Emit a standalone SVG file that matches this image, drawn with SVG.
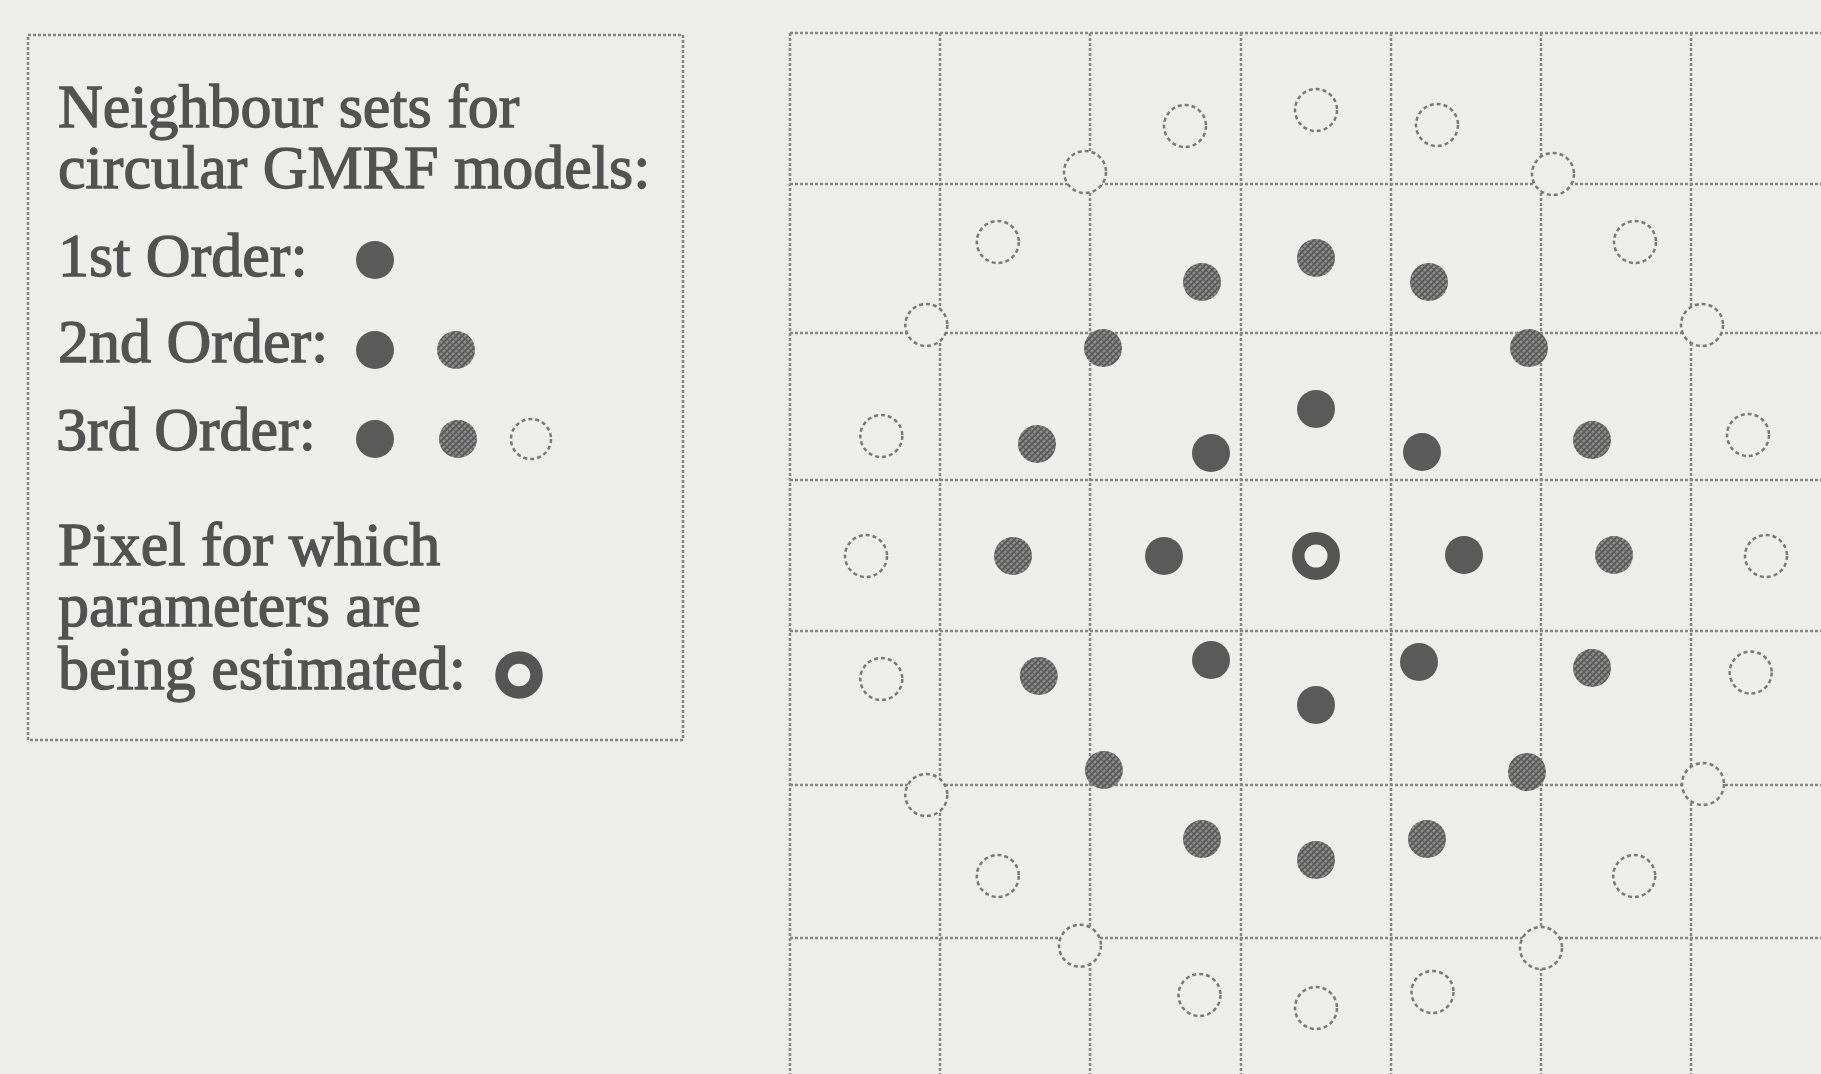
<svg xmlns="http://www.w3.org/2000/svg" width="1821" height="1074" viewBox="0 0 1821 1074">
<style>
.bg{fill:#eeeeed}
.txt{font-family:"Liberation Serif","Times New Roman",serif;font-size:62px;fill:#525252;stroke:#525252;stroke-width:1.3}
.box{fill:none;stroke:#858585;stroke-width:2.5;stroke-dasharray:3 2}
.gl{stroke:#878787;stroke-width:2.5;stroke-dasharray:3 2;fill:none}
.o1{fill:#5a5a5a}
.o2{fill:url(#hatch)}
.o3{fill:#eeeeed;stroke:#7a7a7a;stroke-width:2.5;stroke-dasharray:4 3}
.ctr{fill:none;stroke:#555555;stroke-width:12.5}
</style>
<defs>
<pattern id="hatch" patternUnits="userSpaceOnUse" width="6" height="6">
<rect width="6" height="6" fill="#8e8e8e"/>
<path d="M0,6 L6,0 M-1,1 L1,-1 M5,7 L7,5" stroke="#555" stroke-width="1.7"/>
<path d="M0,0 L6,6 M-1,5 L1,7 M5,-1 L7,1" stroke="#5e5e5e" stroke-width="1.3"/>
</pattern>
</defs>
<rect class="bg" x="0" y="0" width="1821" height="1074"/>

<g id="legend">
<rect class="box" x="28" y="35" width="655" height="705"/>
<text class="txt" x="58" y="127">Neighbour sets for</text>
<text class="txt" x="58" y="188">circular GMRF models:</text>
<text class="txt" x="58" y="276">1st Order:</text>
<text class="txt" x="58" y="362">2nd Order:</text>
<text class="txt" x="56" y="450">3rd Order:</text>
<text class="txt" x="58" y="565">Pixel for which</text>
<text class="txt" x="58" y="626">parameters are</text>
<text class="txt" x="58" y="689">being estimated:</text>
<circle class="o1" cx="375" cy="260" r="19"/>
<circle class="o1" cx="375" cy="350" r="19"/>
<circle class="o2" cx="456" cy="350" r="19"/>
<circle class="o1" cx="375" cy="439" r="19"/>
<circle class="o2" cx="458" cy="439" r="19"/>
<circle class="o3" cx="531" cy="439" r="20"/>
<circle class="ctr" cx="519" cy="675" r="17.5"/>
</g>

<g id="grid">
<line class="gl" x1="790" y1="33" x2="790" y2="1074"/>
<line class="gl" x1="940" y1="33" x2="940" y2="1074"/>
<line class="gl" x1="1090" y1="33" x2="1090" y2="1074"/>
<line class="gl" x1="1241" y1="33" x2="1241" y2="1074"/>
<line class="gl" x1="1391" y1="33" x2="1391" y2="1074"/>
<line class="gl" x1="1541" y1="33" x2="1541" y2="1074"/>
<line class="gl" x1="1691" y1="33" x2="1691" y2="1074"/>
<line class="gl" x1="790" y1="33" x2="1821" y2="33"/>
<line class="gl" x1="790" y1="184" x2="1821" y2="184"/>
<line class="gl" x1="790" y1="333" x2="1821" y2="333"/>
<line class="gl" x1="790" y1="480" x2="1821" y2="480"/>
<line class="gl" x1="790" y1="631" x2="1821" y2="631"/>
<line class="gl" x1="790" y1="785" x2="1821" y2="785"/>
<line class="gl" x1="790" y1="938" x2="1821" y2="938"/>
</g>

<g id="order3">
<circle class="o3" cx="1766" cy="556" r="21"/>
<circle class="o3" cx="1750.7" cy="672.5" r="21"/>
<circle class="o3" cx="1703" cy="784" r="21"/>
<circle class="o3" cx="1634.2" cy="876" r="21"/>
<circle class="o3" cx="1541" cy="948" r="21"/>
<circle class="o3" cx="1432.5" cy="992" r="21"/>
<circle class="o3" cx="1316" cy="1008" r="21"/>
<circle class="o3" cx="1199.5" cy="995" r="21"/>
<circle class="o3" cx="1080" cy="945.7" r="21"/>
<circle class="o3" cx="997.8" cy="876" r="21"/>
<circle class="o3" cx="926.3" cy="795" r="21"/>
<circle class="o3" cx="881.3" cy="679" r="21"/>
<circle class="o3" cx="866" cy="556" r="21"/>
<circle class="o3" cx="881.3" cy="436" r="21"/>
<circle class="o3" cx="926.3" cy="325" r="21"/>
<circle class="o3" cx="997.8" cy="242" r="21"/>
<circle class="o3" cx="1085" cy="172" r="21"/>
<circle class="o3" cx="1185" cy="126" r="21"/>
<circle class="o3" cx="1316" cy="110" r="21"/>
<circle class="o3" cx="1437" cy="125" r="21"/>
<circle class="o3" cx="1553" cy="174" r="21"/>
<circle class="o3" cx="1635" cy="242" r="21"/>
<circle class="o3" cx="1702" cy="325" r="21"/>
<circle class="o3" cx="1748" cy="435" r="21"/>
</g>

<g id="order2">
<circle class="o2" cx="1614" cy="555" r="19"/>
<circle class="o2" cx="1592" cy="668" r="19"/>
<circle class="o2" cx="1527" cy="772" r="19"/>
<circle class="o2" cx="1427" cy="839" r="19"/>
<circle class="o2" cx="1316" cy="860" r="19"/>
<circle class="o2" cx="1202" cy="839" r="19"/>
<circle class="o2" cx="1103.9" cy="770" r="19"/>
<circle class="o2" cx="1038.8" cy="676" r="19"/>
<circle class="o2" cx="1013" cy="556" r="19"/>
<circle class="o2" cx="1037" cy="444" r="19"/>
<circle class="o2" cx="1103" cy="348" r="19"/>
<circle class="o2" cx="1202" cy="282" r="19"/>
<circle class="o2" cx="1316" cy="258" r="19"/>
<circle class="o2" cx="1429" cy="282" r="19"/>
<circle class="o2" cx="1529" cy="348" r="19"/>
<circle class="o2" cx="1592" cy="440" r="19"/>
</g>

<g id="order1">
<circle class="o1" cx="1464" cy="555" r="19"/>
<circle class="o1" cx="1419" cy="662" r="19"/>
<circle class="o1" cx="1316" cy="705" r="19"/>
<circle class="o1" cx="1211" cy="660" r="19"/>
<circle class="o1" cx="1164" cy="556" r="19"/>
<circle class="o1" cx="1211" cy="453" r="19"/>
<circle class="o1" cx="1316" cy="409" r="19"/>
<circle class="o1" cx="1422" cy="452" r="19"/>
</g>

<g id="center">
<circle class="ctr" cx="1316" cy="556" r="17.75"/>
</g>
</svg>
